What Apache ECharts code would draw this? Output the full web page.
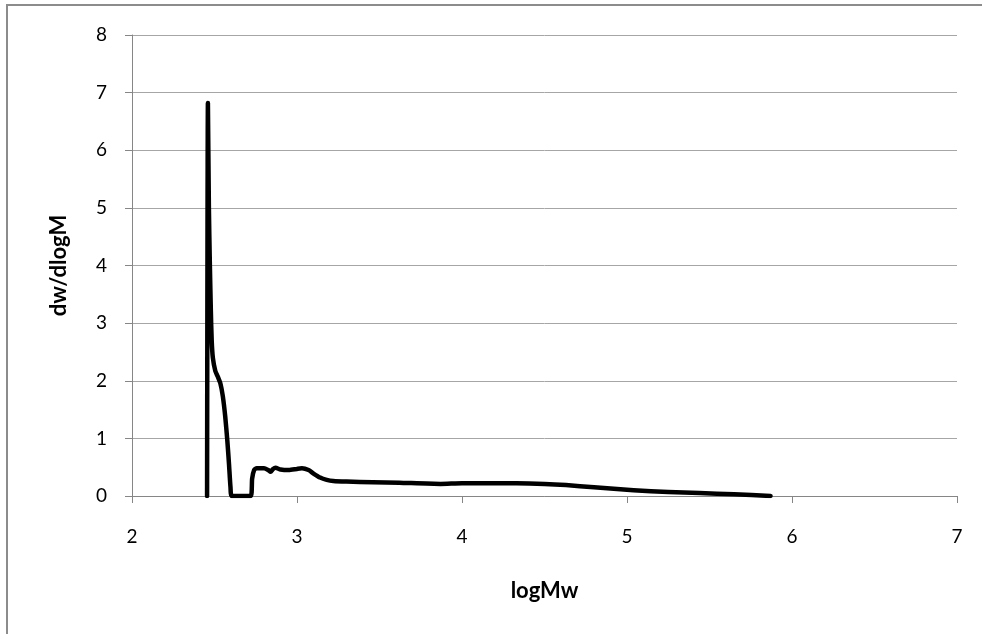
<!DOCTYPE html>
<html><head><meta charset="utf-8">
<script src="https://cdn.jsdelivr.net/npm/echarts@6/dist/echarts.min.js"></script>
<style>html,body{margin:0;padding:0;background:#fff}#c{width:982px;height:634px}</style>
</head><body><div id="c"></div>
<script>
const logMw = [2.455,2.46,2.466,2.472,2.478,2.483,2.49,2.505,2.52,2.535,2.55,2.565,2.578,2.588,2.597,2.605,2.72,2.728,2.74,2.756,2.8,2.825,2.84,2.855,2.87,2.9,2.95,3.0,3.03,3.07,3.1,3.14,3.18,3.22,3.3,3.46,3.62,3.87,4.0,4.33,4.5,4.63,4.8,5.04,5.25,5.44,5.65,5.87];
const dwdlogM = [0,6.82,5.0,4.0,3.2,2.7,2.4,2.17,2.07,1.96,1.74,1.38,0.95,0.55,0.15,0,0,0.3,0.45,0.48,0.48,0.45,0.42,0.47,0.49,0.46,0.45,0.47,0.48,0.45,0.39,0.32,0.28,0.26,0.25,0.24,0.23,0.21,0.22,0.22,0.21,0.19,0.15,0.10,0.07,0.05,0.03,0.0];
const xTitle = 'logMw';
const yTitle = 'dw/dlogM';
const fontFam = 'Lato, "Open Sans", sans-serif';
const chart = echarts.init(document.getElementById('c'));
chart.setOption({
  animation:false,
  backgroundColor:'#fff',
  grid:{left:132,right:25,top:35,bottom:138},
  graphic:[{type:'rect',shape:{x:7,y:5,width:1000,height:700},style:{fill:'none',stroke:'#8c8c8c',lineWidth:2},silent:true}],
  xAxis:{type:'value',min:2,max:7,interval:1,name:xTitle,nameLocation:'middle',nameGap:84,
    nameTextStyle:{fontFamily:fontFam,fontWeight:'bold',fontSize:22,color:'#000'},
    axisLine:{onZero:false,lineStyle:{color:'#868686',width:1}},
    axisTick:{show:true,length:7,lineStyle:{color:'#868686'}},
    axisLabel:{fontFamily:fontFam,fontSize:19,color:'#000',margin:31},
    splitLine:{show:false}},
  yAxis:{type:'value',min:0,max:8,interval:1,name:yTitle,nameLocation:'middle',nameGap:62,nameRotate:90,
    nameTextStyle:{fontFamily:fontFam,fontWeight:'bold',fontSize:22,color:'#000'},
    axisLine:{show:true,lineStyle:{color:'#868686',width:1}},
    axisTick:{show:true,length:7,lineStyle:{color:'#868686'}},
    axisLabel:{fontFamily:fontFam,fontSize:19,color:'#000',margin:25},
    splitLine:{show:true,lineStyle:{color:'#a6a6a6',width:1}}},
  series:[{type:'line',data:logMw.map((x,i)=>[x,dwdlogM[i]]),showSymbol:false,smooth:0.2,
    lineStyle:{color:'#000',width:4.5,cap:'round',join:'round'}}]
});
</script></body></html>
